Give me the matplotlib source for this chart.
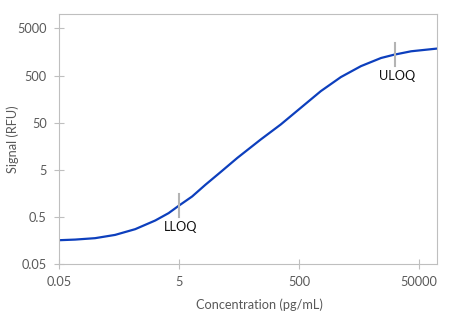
import matplotlib
matplotlib.use('Agg')
import numpy as np
import matplotlib.pyplot as plt
from matplotlib.ticker import FixedLocator, FixedFormatter, NullLocator

plt.rcParams['font.family'] = ['Lato', 'DejaVu Sans']

# curve (pg/mL vs RFU)
conc = [0.05, 0.0927, 0.200, 0.431, 0.933, 2.01, 3.36, 4.94, 8.28, 13.8, 24.6,
        46.9, 115, 248, 536, 1158, 2500, 5400, 11660, 19000, 37070, 100000]
signal = [0.162, 0.167, 0.179, 0.210, 0.278, 0.424, 0.608, 0.869, 1.37, 2.43, 4.49,
          9.0, 22.1, 46.0, 104, 235, 467, 796, 1184, 1386, 1644, 1876]

loq_x = [5, 20000]
loq_lo = [0.515, 800]
loq_hi = [1.57, 2430]
loq_names = ['LLOQ', 'ULOQ']
loq_text_y = [0.31, 490]

xticks = [0.05, 5, 500, 50000]
yticks = [0.05, 0.5, 5, 50, 500, 5000]

grey = '#595959'
spine_c = '#bfbfbf'

fig = plt.figure(figsize=(4.67, 3.25), dpi=100)
ax = fig.add_axes([0.1263, 0.1868, 0.8095, 0.7692])

ax.plot(conc, signal, color='#0d3fbd', lw=1.6, solid_capstyle='round',
        solid_joinstyle='round')
for x, lo, hi, name, ty in zip(loq_x, loq_lo, loq_hi, loq_names, loq_text_y):
    ax.plot([x, x], [lo, hi], color='#b4b4b4', lw=1.5)
    ax.text(x * 1.07, ty, name, ha='center', va='center', fontsize=9.2, color='#111111')

ax.set_xscale('log')
ax.set_yscale('log')
ax.set_xlim(0.05, 100000)
ax.set_ylim(0.05, 10000)

ax.xaxis.set_major_locator(FixedLocator(xticks))
ax.xaxis.set_major_formatter(FixedFormatter([str(t) for t in xticks]))
ax.yaxis.set_major_locator(FixedLocator(yticks))
ax.yaxis.set_major_formatter(FixedFormatter([str(t) for t in yticks]))
ax.xaxis.set_minor_locator(NullLocator())
ax.yaxis.set_minor_locator(NullLocator())

ax.tick_params(axis='both', direction='inout', length=7.5, width=0.8, color=spine_c,
               labelcolor=grey, labelsize=9.2)
ax.tick_params(axis='x', pad=5)
ax.tick_params(axis='y', pad=5)
for s in ax.spines.values():
    s.set_color(spine_c)
    s.set_linewidth(0.8)

ax.set_xlabel('Concentration (pg/mL)', fontsize=9.2, color=grey)
ax.set_ylabel('Signal (RFU)', fontsize=9.2, color=grey)
ax.xaxis.set_label_coords(0.53, -0.135)
ax.yaxis.set_label_coords(-0.105, 0.5)

fig.savefig('out.png', dpi=100)
